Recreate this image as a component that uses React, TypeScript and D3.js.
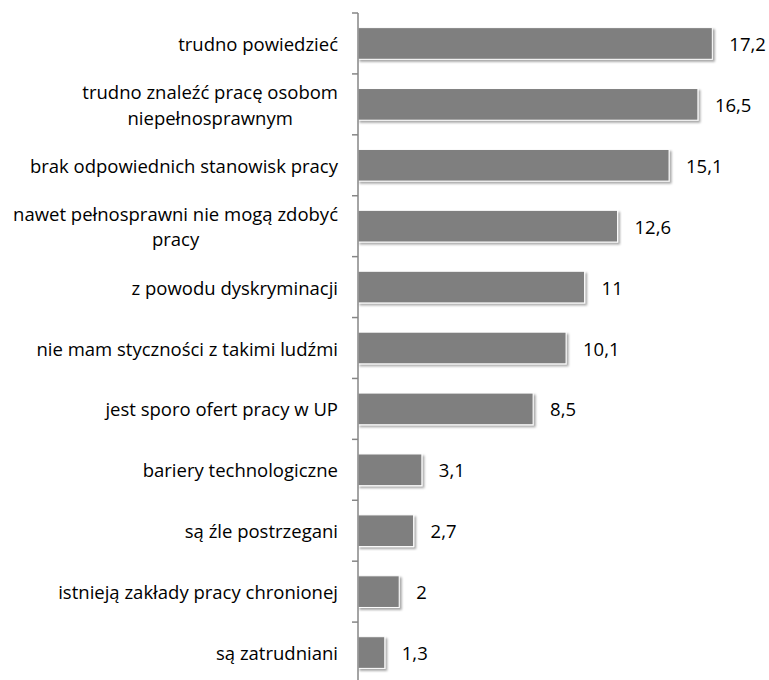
import React from "react";
import * as d3 from "d3";

const categories: string[][] = [
  ["trudno powiedzieć"],
  ["trudno znaleźć pracę osobom", "niepełnosprawnym"],
  ["brak odpowiednich stanowisk pracy"],
  ["nawet pełnosprawni nie mogą zdobyć", "pracy"],
  ["z powodu dyskryminacji"],
  ["nie mam styczności z takimi ludźmi"],
  ["jest sporo ofert pracy w UP"],
  ["bariery technologiczne"],
  ["są źle postrzegani"],
  ["istnieją zakłady pracy chronionej"],
  ["są zatrudniani"],
];
const values: number[] = [17.2, 16.5, 15.1, 12.6, 11, 10.1, 8.5, 3.1, 2.7, 2, 1.3];
const valueLabels: string[] = ["17,2", "16,5", "15,1", "12,6", "11", "10,1", "8,5", "3,1", "2,7", "2", "1,3"];

export default function App() {
  const W = 769;
  const H = 680;
  const x0 = 358;
  const x = d3.scaleLinear().domain([0, 20]).range([x0, x0 + 412]);
  const y = d3
    .scaleBand<number>()
    .domain(d3.range(values.length))
    .range([13, 683])
    .paddingInner(0.48)
    .paddingOuter(0.24);
  const step = y.step();
  const ticks = d3.range(values.length + 1).map((i) => 13 + i * step);
  const font = "'Open Sans', sans-serif";
  const fs = 18.5;
  const lh = 25.5;
  return (
    <svg
      width={W}
      height={H}
      style={{ position: "absolute", left: 0, top: 0, background: "#fff" }}
      fontFamily={font}
    >
      <defs>
        <filter id="sh" x="-10%" y="-30%" width="130%" height="180%">
          <feDropShadow dx="2" dy="2" stdDeviation="1.2" floodColor="#000" floodOpacity="0.35" />
        </filter>
      </defs>
      {values.map((v, i) => (
        <rect
          key={i}
          x={x(0)}
          y={y(i)!}
          width={x(v) - x(0)}
          height={y.bandwidth()}
          fill="#7f7f7f"
          stroke="#ffffff"
          strokeWidth={1}
          filter="url(#sh)"
        />
      ))}
      <line x1={x0} x2={x0} y1={13} y2={683} stroke="#868686" strokeWidth={1.5} />
      {ticks.map((t, i) => (
        <line key={i} x1={x0 - 6} x2={x0} y1={t} y2={t} stroke="#868686" strokeWidth={1.5} />
      ))}
      {values.map((v, i) => (
        <text
          key={i}
          x={x(v) + 17}
          y={y(i)! + y.bandwidth() / 2}
          dominantBaseline="central"
          fontSize={fs}
          fill="#000"
        >
          {valueLabels[i]}
        </text>
      ))}
      {categories.map((lines, i) => {
        const cy = y(i)! + y.bandwidth() / 2;
        const n = lines.length;
        return (
          <text key={i} fontSize={fs} fill="#000" textAnchor="middle">
            {lines.map((l, j) => (
              <tspan
                key={j}
                x={0}
                y={cy + (j - (n - 1) / 2) * lh}
                dominantBaseline="central"
                className={`cat-${i}`}
              >
                {l}
              </tspan>
            ))}
          </text>
        );
      })}
      <CatLabels />
    </svg>
  );
}

function CatLabels() {
  // positions category label blocks: right edge at 338, lines centered in block
  React.useLayoutEffect(() => {
    const svg = d3.select("svg");
    categories.forEach((lines, i) => {
      const spans = svg.selectAll<SVGTSpanElement, unknown>(`.cat-${i}`);
      let maxW = 0;
      spans.each(function () {
        maxW = Math.max(maxW, this.getComputedTextLength());
      });
      const cx = 338 - maxW / 2;
      spans.attr("x", cx);
    });
  }, []);
  return null;
}
